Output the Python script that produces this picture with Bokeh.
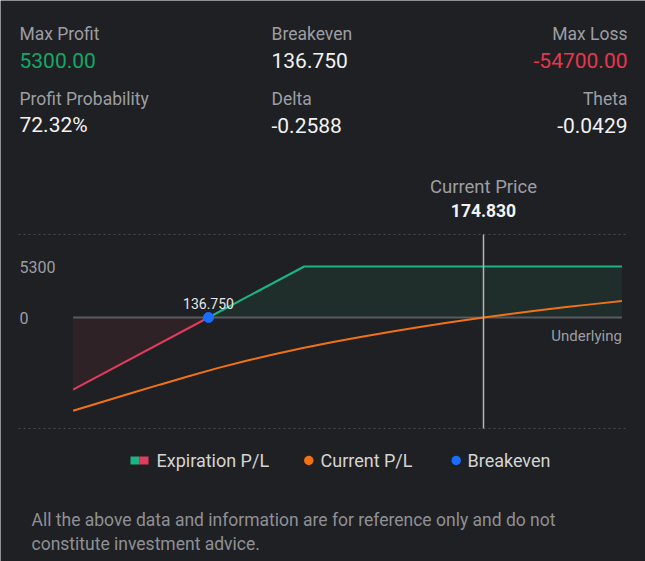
import numpy as np
from bokeh.plotting import figure
from bokeh.models import Label, Range1d
from bokeh.embed import file_html
from bokeh.resources import INLINE

# ---------------- data ----------------
stat_labels = ["Max Profit", "Breakeven", "Max Loss", "Profit Probability", "Delta", "Theta"]
stat_values = ["5300.00", "136.750", "-54700.00", "72.32%", "-0.2588", "-0.0429"]
breakeven = 136.75
current_price = 174.83
exp_prices = [118, 136.75, 150, 194]
exp_pl = [-7500, 0, 5300, 5300]
cur_prices = [118, 122, 126, 130, 134, 138, 142, 146, 150, 154, 158, 162, 166, 170,
              174.83, 178, 182, 186, 190, 194]
cur_pl = [-9690, -8780, -7870, -6980, -6110, -5260, -4490, -3790, -3150, -2550, -2000,
          -1470, -980, -520, 0, 320, 700, 1060, 1390, 1710]
y_ticks = [5300, 0]
legend_labels = ["Expiration P/L", "Current P/L", "Breakeven"]
footer_lines = ["All the above data and information are for reference only and do not",
                "constitute investment advice."]

# ---------------- style ----------------
BG = "#1f2023"
GRAY = "#9d9ea3"
WHITE = "#f2f2f2"
GREEN_TXT = "#14a868"
RED_TXT = "#e8364e"
GREEN = "#1cb482"
RED = "#e23c5c"
ORANGE = "#f07214"
BLUE = "#1a6dff"
FONT = "Roboto"

W, H = 645, 561
# the frame covers the whole canvas; ranges chosen so the P/L region sits where it should
XPP = (current_price - breakeven) / 275.0     # price units per pixel
YPP = 5300 / 51.0                             # P/L units per pixel
XR = (breakeven - 208 * XPP, breakeven + (W - 208) * XPP)
YR = (-(H - 317) * YPP, 317 * YPP)


def sx(px):
    return XR[0] + px * (XR[1] - XR[0]) / W


def sy(py):
    return YR[1] - py * (YR[1] - YR[0]) / H


p = figure(width=W, height=H, output_backend="svg", toolbar_location=None,
           x_range=Range1d(*XR), y_range=Range1d(*YR),
           min_border=0, x_axis_type=None, y_axis_type=None,
           background_fill_color=BG, border_fill_color=BG, outline_line_color=None)


def lab(px, py, text, size, color, align="left", bold=False):
    p.add_layout(Label(x=sx(px), y=sy(py), text=text, text_font=FONT,
                       text_font_size=f"{size}px", text_color=color,
                       text_align=align, text_baseline="middle",
                       text_font_style="bold" if bold else "normal"))


# ---- stats ----
cols = [(19, "left"), (271, "left"), (627, "right")]
val_colors = [GREEN_TXT, WHITE, RED_TXT, WHITE, WHITE, WHITE]
for i, (lt, vt) in enumerate(zip(stat_labels, stat_values)):
    cx, al = cols[i % 3]
    row = i // 3
    lab(cx, 33.5 + row * 65, lt, 17.5, GRAY, al)
    lab(cx, 59.5 + row * 65, vt, 21, val_colors[i], al)

# ---- current price header ----
lab(483, 186, "Current Price", 18.5, GRAY, "center")
lab(483, 210, f"{current_price:.3f}", 17.5, WHITE, "center", bold=True)

# ---- dotted frame lines ----
p.segment(x0=[sx(18)] * 2, x1=[sx(628)] * 2, y0=[sy(234), sy(428)], y1=[sy(234), sy(428)],
          line_color="#4a4b4f", line_width=1, line_dash="2 3")

# ---- expiration P/L ----
ep = np.array(exp_prices, dtype=float)
ev = np.array(exp_pl, dtype=float)
loss = ev <= 0
prof = ev >= 0
p.varea(x=ep[loss], y1=0, y2=ev[loss], fill_color=RED, fill_alpha=0.08)
p.varea(x=ep[prof], y1=0, y2=ev[prof], fill_color=GREEN, fill_alpha=0.09)

# zero line
p.line(x=[min(exp_prices), max(exp_prices)], y=[0, 0], line_color="#5a5b5f", line_width=2)

p.line(x=ep[loss], y=ev[loss], line_color=RED, line_width=2)
p.line(x=ep[prof], y=ev[prof], line_color=GREEN, line_width=2)

# ---- current P/L ----
p.line(x=cur_prices, y=cur_pl, line_color=ORANGE, line_width=2)

# ---- current price line ----
p.segment(x0=[current_price], y0=[sy(428)], x1=[current_price], y1=[sy(234)],
          line_color="#b4b4b4", line_width=1.5)

# ---- breakeven ----
p.scatter(x=[breakeven], y=[0], size=10, fill_color=BLUE, line_color=BLUE)
p.add_layout(Label(x=breakeven, y=0, y_offset=14, text=f"{breakeven:.3f}", text_font=FONT,
                   text_font_size="14px", text_color="#e6e6e6", text_align="center",
                   text_baseline="middle"))

# ---- y labels ----
for t in y_ticks:
    p.add_layout(Label(x=sx(19), y=t, text=str(t), text_font=FONT, text_font_size="16px",
                       text_color=GRAY, text_align="left", text_baseline="middle"))

# underlying
p.add_layout(Label(x=max(exp_prices), y=0, y_offset=-18, text="Underlying", text_font=FONT,
                   text_font_size="15px", text_color=GRAY, text_align="right",
                   text_baseline="middle"))

# ---- legend ----
LY = 460
p.quad(left=[sx(130), sx(139)], right=[sx(139), sx(148)], top=[sy(456)] * 2, bottom=[sy(464)] * 2,
       fill_color=[GREEN, RED], line_color=None)
p.scatter(x=[sx(308.3), sx(455.7)], y=[sy(LY)] * 2, size=9.5,
          fill_color=[ORANGE, BLUE], line_color=None)
lab(156, LY, legend_labels[0], 18, "#d4d4d4")
lab(320, LY, legend_labels[1], 18, "#d4d4d4")
lab(467, LY, legend_labels[2], 18, "#d4d4d4")

# ---- footer ----
for k, ln in enumerate(footer_lines):
    lab(31, 519 + 24 * k, ln, 17.5, "#8f9095")

open("out.html", "w").write(file_html(p, INLINE))
